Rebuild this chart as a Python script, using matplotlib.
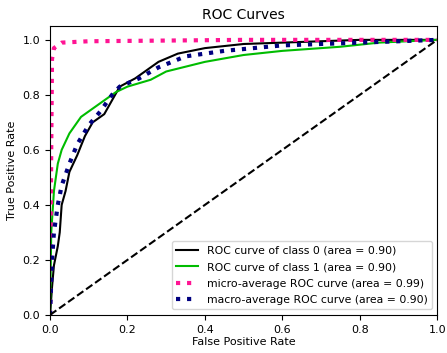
import matplotlib
matplotlib.use('Agg')
import matplotlib.pyplot as plt

# ROC curve points
fpr0 = [0.0, 0.005, 0.01, 0.02, 0.025, 0.03, 0.04, 0.05, 0.07, 0.09, 0.11, 0.14, 0.16, 0.18, 0.22, 0.28, 0.33, 0.40, 0.50, 0.60, 0.80, 1.0]
tpr0 = [0.0, 0.10, 0.18, 0.25, 0.30, 0.40, 0.45, 0.52, 0.58, 0.65, 0.70, 0.73, 0.78, 0.83, 0.86, 0.92, 0.95, 0.97, 0.985, 0.99, 1.0, 1.0]

fpr1 = [0.0, 0.003, 0.01, 0.02, 0.03, 0.05, 0.08, 0.12, 0.17, 0.20, 0.26, 0.30, 0.40, 0.50, 0.60, 0.75, 0.85, 1.0]
tpr1 = [0.0, 0.30, 0.45, 0.55, 0.60, 0.66, 0.72, 0.76, 0.81, 0.83, 0.855, 0.885, 0.92, 0.945, 0.96, 0.975, 0.99, 1.0]

fpr_micro = [0.0, 0.003, 0.005, 0.01, 0.03, 0.10, 0.50, 1.0]
tpr_micro = [0.0, 0.60, 0.93, 0.97, 0.99, 0.995, 1.0, 1.0]

fpr_macro = [0.0, 0.005, 0.01, 0.02, 0.03, 0.05, 0.07, 0.10, 0.13, 0.16, 0.18, 0.23, 0.28, 0.35, 0.45, 0.60, 0.80, 1.0]
tpr_macro = [0.0, 0.20, 0.30, 0.40, 0.47, 0.55, 0.62, 0.69, 0.74, 0.80, 0.83, 0.86, 0.90, 0.94, 0.96, 0.98, 0.99, 1.0]

labels = ['ROC curve of class 0 (area = 0.90)',
          'ROC curve of class 1 (area = 0.90)',
          'micro-average ROC curve (area = 0.99)',
          'macro-average ROC curve (area = 0.90)']

fig = plt.figure(figsize=(4.47, 3.53), dpi=100)
ax = fig.add_axes([0.112, 0.108, 0.866, 0.818])

ax.plot(fpr0, tpr0, color='black', lw=1.5, label=labels[0])
ax.plot(fpr1, tpr1, color=plt.cm.nipy_spectral(0.5), lw=1.5, label=labels[1])
ax.plot(fpr_micro, tpr_micro, color='deeppink', linestyle=':', lw=3, label=labels[2])
ax.plot(fpr_macro, tpr_macro, color='navy', linestyle=':', lw=3, label=labels[3])
ax.plot([0, 1], [0, 1], 'k--', lw=1.5)

ax.set_xlim([0.0, 1.0])
ax.set_ylim([0.0, 1.05])
ax.set_title('ROC Curves', fontsize=10, pad=5)
ax.set_xlabel('False Positive Rate', fontsize=8, labelpad=2)
ax.set_ylabel('True Positive Rate', fontsize=8)
ax.tick_params(labelsize=8)
ax.legend(loc='lower right', fontsize=7.8, labelspacing=0.6)

fig.savefig('out.png', dpi=100)
